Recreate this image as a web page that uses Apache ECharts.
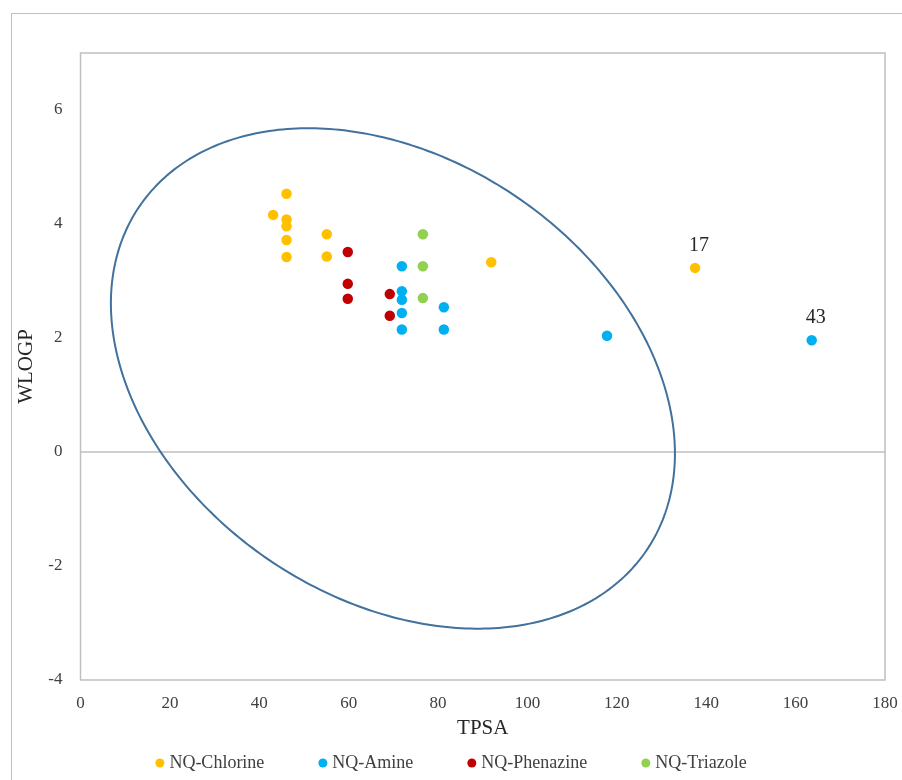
<!DOCTYPE html>
<html>
<head>
<meta charset="utf-8">
<script src="https://cdn.jsdelivr.net/npm/echarts@6/dist/echarts.min.js"></script>
<style>
  html, body { margin: 0; padding: 0; background: #fff; overflow: hidden; }
  #frame { position: absolute; left: 11px; top: 13px; width: 960px; height: 900px; border: 1.5px solid #BFBFBF; box-sizing: border-box; }
  #chart { position: absolute; left: 0; top: 0; width: 902px; height: 780px; }
</style>
</head>
<body>
<div id="frame"></div>
<div id="chart"></div>
<script>
// ---- data ----
const seriesNames = ['NQ-Chlorine', 'NQ-Amine', 'NQ-Phenazine', 'NQ-Triazole'];
const seriesColors = ['#FFC000', '#00B0F0', '#C00000', '#92D050'];

const chlorineData = [[46.1, 4.53], [43.1, 4.16], [46.1, 4.08], [46.1, 3.96], [46.1, 3.72], [46.1, 3.42], [55.1, 3.82], [55.1, 3.43], [91.9, 3.33], [137.5, 3.23]];
const chlorineLabels = ['', '', '', '', '', '', '', '', '', '17'];

const amineData = [[71.9, 3.26], [71.9, 2.82], [71.9, 2.67], [71.9, 2.44], [71.9, 2.15], [81.3, 2.54], [81.3, 2.15], [117.8, 2.04], [163.6, 1.96]];
const amineLabels = ['', '', '', '', '', '', '', '', '43'];

const phenazineData = [[59.8, 3.51], [59.8, 2.95], [59.8, 2.69], [69.2, 2.77], [69.2, 2.39]];
const triazoleData = [[76.6, 3.82], [76.6, 3.26], [76.6, 2.70]];

// ellipse (data units): centre, half-extents, correlation
const ellipseCenter = [69.9, 1.29];
const ellipseHalfExtent = [63.1, 4.39];
const ellipseRho = -0.30;

const xTicks = { min: 0, max: 180, interval: 20 };
const yTicks = { min: -4, max: 7, interval: 2 };

// ---- chart ----
const chart = echarts.init(document.getElementById('chart'), null, { renderer: 'canvas' });
const FONT = '"Liberation Serif", "DejaVu Serif", serif';

function withLabels(data, labels) {
  return data.map((d, i) => labels[i] ? { value: d, label: { show: true, formatter: labels[i] } } : d);
}

const scatterBase = (name, color, data) => ({
  name, type: 'scatter', data, symbol: 'circle', symbolSize: 10.5,
  itemStyle: { color, opacity: 1 },
  label: { show: false, position: 'top', distance: 7, offset: [4, 0], color: '#262626', fontFamily: FONT, fontSize: 20 },
  z: 3
});

const option = {
  backgroundColor: 'transparent',
  animation: false,
  grid: { left: 80.5, right: 17, top: 53, bottom: 100, show: true, borderColor: '#BFBFBF', borderWidth: 1.5, backgroundColor: 'transparent' },
  xAxis: {
    type: 'value', min: xTicks.min, max: xTicks.max, interval: xTicks.interval,
    name: 'TPSA', nameLocation: 'middle', nameGap: 38,
    nameTextStyle: { fontFamily: FONT, fontSize: 21, color: '#262626' },
    axisLine: { show: false }, axisTick: { show: false }, splitLine: { show: false },
    axisLabel: { fontFamily: FONT, fontSize: 17, color: '#404040', margin: 15 }
  },
  yAxis: {
    type: 'value', min: yTicks.min, max: yTicks.max, interval: yTicks.interval,
    name: 'WLOGP', nameLocation: 'middle', nameGap: 35,
    nameTextStyle: { fontFamily: FONT, fontSize: 21, color: '#262626' },
    axisLine: { show: false }, axisTick: { show: false }, splitLine: { show: false },
    axisLabel: { fontFamily: FONT, fontSize: 17, color: '#404040', margin: 18, showMaxLabel: false }
  },
  legend: {
    data: seriesNames, bottom: 3, left: 'center', icon: 'circle',
    itemWidth: 9, itemHeight: 9, itemGap: 54,
    textStyle: { fontFamily: FONT, fontSize: 18, color: '#404040' }
  },
  series: [
    {
      name: 'ellipse', type: 'custom', silent: true, z: 1,
      data: [[ellipseCenter[0], ellipseCenter[1], ellipseHalfExtent[0], ellipseHalfExtent[1], ellipseRho]],
      renderItem: function (params, api) {
        const cx = api.value(0), cy = api.value(1), rx = api.value(2), ry = api.value(3), rho = api.value(4);
        const s = Math.sqrt(1 - rho * rho);
        const pts = [];
        for (let i = 0; i < 360; i++) {
          const t = i * Math.PI / 180;
          pts.push(api.coord([cx + rx * Math.cos(t), cy + ry * (rho * Math.cos(t) + s * Math.sin(t))]));
        }
        return { type: 'polygon', shape: { points: pts }, style: { fill: 'none', stroke: '#41719C', lineWidth: 2 } };
      }
    },
    Object.assign(scatterBase(seriesNames[0], seriesColors[0], withLabels(chlorineData, chlorineLabels)), {
      markLine: { silent: true, symbol: 'none', label: { show: false }, lineStyle: { color: '#BFBFBF', width: 1.5, type: 'solid' }, data: [{ yAxis: 0 }], z: 0 }
    }),
    scatterBase(seriesNames[1], seriesColors[1], withLabels(amineData, amineLabels)),
    scatterBase(seriesNames[2], seriesColors[2], phenazineData),
    scatterBase(seriesNames[3], seriesColors[3], triazoleData)
  ]
};
chart.setOption(option);
</script>
</body>
</html>
